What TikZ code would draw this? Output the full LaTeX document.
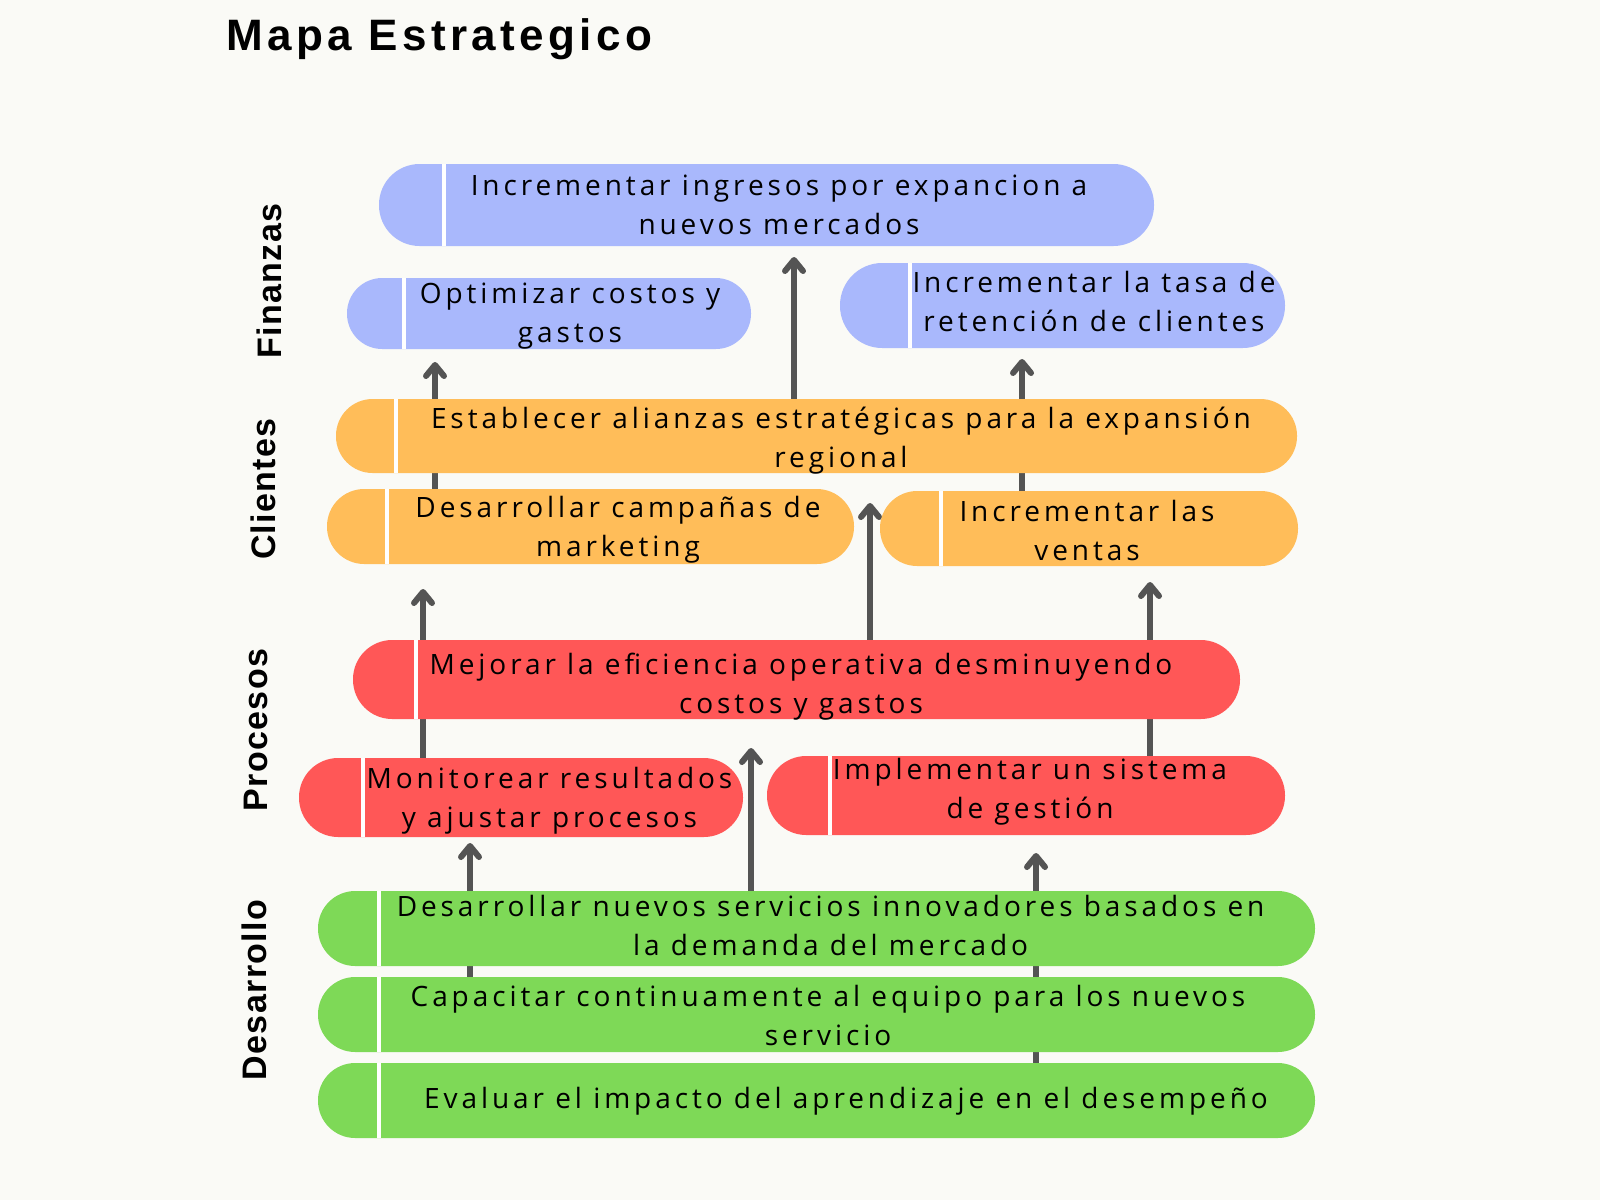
\documentclass[tikz,border=0pt]{standalone}
\usepackage{fontspec}
\setmainfont{Open Sans}
\newfontfamily\bodyf[LetterSpace=14]{Open Sans}
\newfontfamily\titlef[LetterSpace=10]{Liberation Sans}
\newfontfamily\sidef[LetterSpace=4]{Liberation Sans}
\usetikzlibrary{arrows.meta}
\definecolor{cbg}{HTML}{FAFAF6}
\definecolor{cblue}{HTML}{A9B8FC}
\definecolor{corange}{HTML}{FFBD59}
\definecolor{cred}{HTML}{FF5757}
\definecolor{cgreen}{HTML}{7ED957}
\definecolor{cgray}{HTML}{545454}
\pgfdeclarelayer{bg}
\pgfdeclarelayer{arrowlayer}
\pgfsetlayers{bg,arrowlayer,main}
\tikzset{
  pill/.style={rectangle, inner sep=0pt, outer sep=0pt, draw=none},
  splitline/.style={draw=white, line width=1.7pt},
  txt/.style={align=center, inner sep=0pt, font=\bodyf\fontsize{14pt}{19.5pt}\selectfont, text=black},
  side/.style={rotate=90, inner sep=0pt, font=\sidef\bfseries\fontsize{17pt}{19pt}\selectfont},
  arr/.style={draw=cgray, line width=3pt, -{Straight Barb[length=5.5pt,width=9pt,round]}}
}
% name, color, cx, cy, width, height, radius, split
\newcommand\pillbox[8]{%
  \node[pill, fill=#2, minimum width=#5, minimum height=#6, rounded corners=#7] (#1) at (#3,#4) {};
  \draw[splitline] ([xshift=#8]#1.north west) -- ([xshift=#8]#1.south west);}
\begin{document}
\begin{tikzpicture}[x=0.5pt, y=-0.5pt]
\begin{pgfonlayer}{bg}
  \fill[cbg] (0,0) rectangle (1600,1200);
\end{pgfonlayer}
\useasboundingbox (0,0) rectangle (1600,1200);

\node[anchor=base west, inner sep=0pt, font=\titlef\bfseries\fontsize{22pt}{26pt}\selectfont] (title) at (226,50) {Mapa Estrategico};

% side labels
\node[side] (sf) at (269,281) {Finanzas};
\node[side] (sc) at (263,489) {Clientes};
\node[side] (sp) at (256,730) {Procesos};
\node[side] (sd) at (254,990) {Desarrollo};

% boxes
\pillbox{b1}{cblue}{766.5}{205}{387.5pt}{41pt}{20.3pt}{32.5pt}
\pillbox{b2}{cblue}{549}{313.5}{202pt}{35.5pt}{17.6pt}{28.5pt}
\pillbox{b3}{cblue}{1062.5}{305.5}{222.5pt}{42.5pt}{21.1pt}{35pt}
\pillbox{b4}{corange}{816.5}{436}{480.5pt}{37pt}{18.3pt}{30pt}
\pillbox{b5}{corange}{590.5}{526.5}{263.5pt}{37.5pt}{18.6pt}{30pt}
\pillbox{b6}{corange}{1089}{528.5}{209pt}{37.5pt}{18.6pt}{30.5pt}
\pillbox{b7}{cred}{796.5}{679.5}{443.5pt}{39.5pt}{19.6pt}{31.5pt}
\pillbox{b8}{cred}{521}{797.5}{222pt}{39.5pt}{19.6pt}{32pt}
\pillbox{b9}{cred}{1026}{795.5}{259pt}{39.5pt}{19.6pt}{31.5pt}
\pillbox{b10}{cgreen}{816.5}{928.5}{498.5pt}{37.5pt}{18.6pt}{30.5pt}
\pillbox{b11}{cgreen}{816.5}{1014.5}{498.5pt}{37.5pt}{18.6pt}{30.5pt}
\pillbox{b12}{cgreen}{816.5}{1100.5}{498.5pt}{37.5pt}{18.6pt}{30.5pt}

% texts
\node[txt] (t1) at (779,205) {Incrementar ingresos por expancion a\\nuevos mercados};
\node[txt] (t2) at (570,316) {Optimizar costos y\\gastos};
\node[txt] (t3) at (1094,301) {Incrementar la tasa de\\retención de clientes};
\node[txt] (t4) at (841,441) {Establecer alianzas estratégicas para la expansión\\regional};
\node[txt] (t5) at (618,530) {Desarrollar campañas de\\marketing};
\node[txt] (t6) at (1087,530) {Incrementar las\\ventas};
\node[txt] (t7) at (801,687) {Mejorar la eficiencia operativa desminuyendo\\costos y gastos};
\node[txt] (t8) at (549.5,801) {Monitorear resultados\\y ajustar procesos};
\node[txt] (t9) at (1030,792) {Implementar un sistema\\de gestión};
\node[txt] (t10) at (830.6,925) {Desarrollar nuevos servicios innovadores basados en\\la demanda del mercado};
\node[txt] (t11) at (828,1015) {Capacitar continuamente al equipo para los nuevos\\servicio};
\node[txt] (t12) at (846,1101) {Evaluar el impacto del aprendizaje en el desempeño};

% arrows
\begin{pgfonlayer}{arrowlayer}
\draw[arr, shorten >=5.5pt] (b4.north -| 794,0) -- (b1.south -| 794,0);
\draw[arr, shorten >=6.5pt] (b5.north -| 435,0) -- (b2.south -| 435,0);
\draw[arr, shorten >=5.5pt] (b6.north -| 1022,0) -- (b3.south -| 1022,0);
\draw[arr, shorten >=15pt] (b7.north -| 870,0) -- (b4.south -| 870,0);
\draw[arr, shorten >=12.5pt] (b8.north -| 423,0) -- (b5.south -| 423,0);
\draw[arr, shorten >=8pt] (b9.north -| 1150,0) -- (b6.south -| 1150,0);
\draw[arr, shorten >=14.5pt] (b10.north -| 751,0) -- (b7.south -| 751,0);
\draw[arr, shorten >=3pt] (b11.north -| 470,0) -- (b8.south -| 470,0);
\draw[arr, shorten >=9pt] (b12.north -| 1036,0) -- (b9.south -| 1036,0);
\end{pgfonlayer}
\end{tikzpicture}
\end{document}
